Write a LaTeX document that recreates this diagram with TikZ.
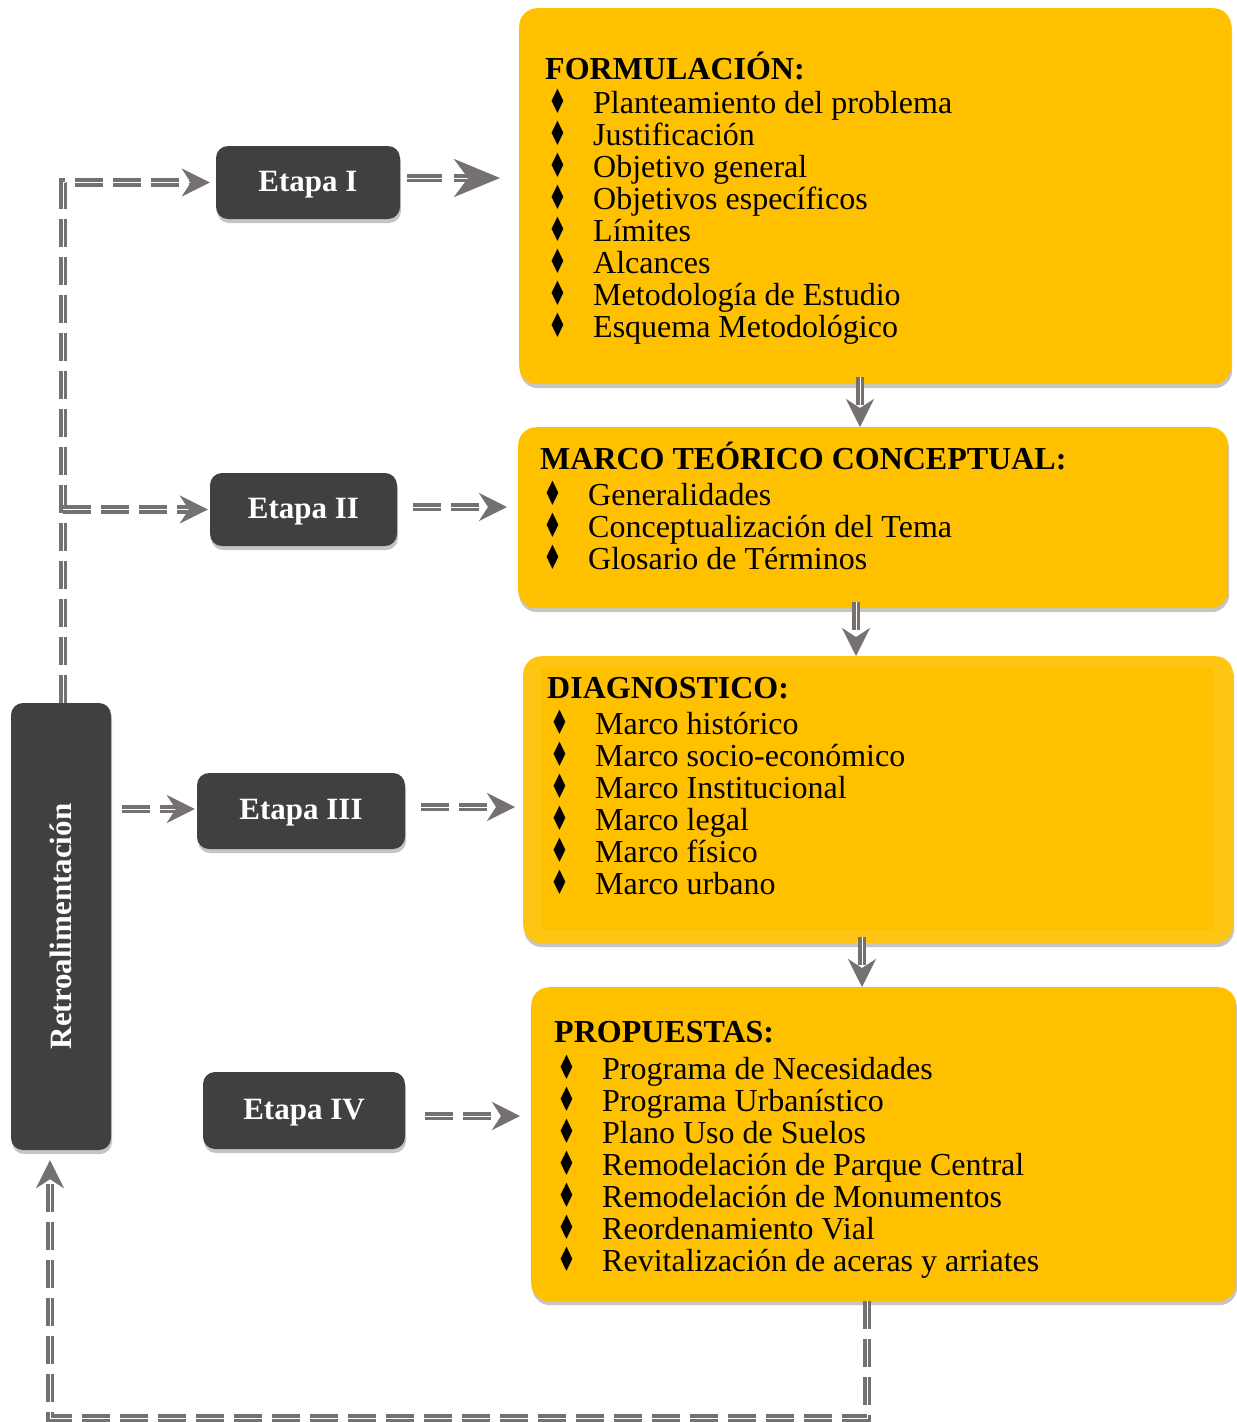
\documentclass[tikz,border=0pt]{standalone}
\usepackage{fontspec}
\setmainfont{Liberation Serif}
\newfontfamily\djv{DejaVu Sans}
\usepackage{graphicx}
\usetikzlibrary{arrows.meta,shadows,calc}
\definecolor{orng}{HTML}{FFC000}
\definecolor{orngb}{HTML}{FFC514}
\definecolor{dark}{HTML}{404040}
\definecolor{arr}{HTML}{767171}
\newcommand{\bul}{\scalebox{0.66}[1.05]{\djv ♦}}
\newcommand{\itm}[1]{\hspace*{3pt}\makebox[45pt][l]{\bul}#1}
\begin{document}
\begin{tikzpicture}[x=1pt,y=-1pt,
  obox/.style={fill=orng, rounded corners=18pt, anchor=north west, inner sep=0pt,
    drop shadow={opacity=0.45,shadow xshift=1pt,shadow yshift=-4pt}},
  dbox/.style={fill=dark, rounded corners=12pt, inner sep=0pt, text=white,
    font=\bfseries\fontsize{31}{31}\selectfont, text depth=3pt,
    drop shadow={opacity=0.45,shadow xshift=1pt,shadow yshift=-4pt}},
  txt/.style={anchor=base west, align=left, inner sep=0pt, font=\fontsize{32}{32}\selectfont},
  link/.style={draw=arr, line width=3.6pt, double=white, double distance=1pt,
    dash pattern=on 28pt off 10pt,
    -{Stealth[length=28pt,width=28pt,inset=9pt,fill=arr]}},
  biglink/.style={link, dash pattern=on 35pt off 12pt,
    -{Stealth[length=46pt,width=38pt,inset=14pt,fill=arr]}}
]
\fill[white] (0,0) rectangle (1237,1422);
\useasboundingbox (0,0) rectangle (1237,1422);

% orange boxes
\node[obox, minimum width=712pt, minimum height=376pt] (f) at (519,8) {};
\node[obox, minimum width=710pt, minimum height=181pt] (m) at (518,427) {};
\node[obox, fill=orngb, minimum width=710pt, minimum height=287pt] (d) at (523,656) {};
\fill[orng] (541,668) rectangle (1213,930);
\node[obox, minimum width=705pt, minimum height=314pt] (p) at (531,987) {};

% texts (anchored at the baseline of the last line)
\node[txt] (ft) at (545,337) {\textbf{FORMULACIÓN:}\\[2pt]
\itm{Planteamiento del problema}\\
\itm{Justificación}\\
\itm{Objetivo general}\\
\itm{Objetivos específicos}\\
\itm{Límites}\\
\itm{Alcances}\\
\itm{Metodología de Estudio}\\
\itm{Esquema Metodológico}};

\node[txt] (mt) at (540,569) {\textbf{MARCO TEÓRICO CONCEPTUAL:}\\[4pt]
\itm{Generalidades}\\
\itm{Conceptualización del Tema}\\
\itm{Glosario de Términos}};

\node[txt] (dt) at (547,894) {\textbf{DIAGNOSTICO:}\\[4pt]
\itm{Marco histórico}\\
\itm{Marco socio-económico}\\
\itm{Marco Institucional}\\
\itm{Marco legal}\\
\itm{Marco físico}\\
\itm{Marco urbano}};

\node[txt] (pt) at (554,1271) {\textbf{PROPUESTAS:}\\[5pt]
\itm{Programa de Necesidades}\\
\itm{Programa Urbanístico}\\
\itm{Plano Uso de Suelos}\\
\itm{Remodelación de Parque Central}\\
\itm{Remodelación de Monumentos}\\
\itm{Reordenamiento Vial}\\
\itm{Revitalización de aceras y arriates}};

% dark boxes
\node[dbox, minimum width=184pt, minimum height=73pt] (e1) at (308,182.5) {Etapa I};
\node[dbox, minimum width=187pt, minimum height=73pt] (e2) at (303.5,509.5) {Etapa II};
\node[dbox, minimum width=208pt, minimum height=76pt] (e3) at (301,811) {Etapa III};
\node[dbox, minimum width=202pt, minimum height=77pt] (e4) at (304,1110.5) {Etapa IV};
\node[dbox, minimum width=100pt, minimum height=447pt] (r) at (61,926.5) {};
\node[rotate=90, text=white, font=\bfseries\fontsize{31}{31}\selectfont] (rt) at (r.center) {Retroalimentación};

% coordinates
\coordinate (lx) at (63,0);
\coordinate (fx) at (860,0);
\coordinate (mx) at (856,0);
\coordinate (dx) at (862,0);
\coordinate (bx) at (867,0);
\coordinate (bl) at (50,1418);

% connectors
\draw[biglink, shorten <=7pt, shorten >=19pt] (e1.east |- 0,178) -- (f.west |- 0,178);
\draw[link, shorten <=16pt, shorten >=11pt] (e2.east |- 0,507) -- (m.west |- 0,507);
\draw[link, shorten <=16pt, shorten >=8pt] (e3.east |- 0,807) -- (d.west |- 0,807);
\draw[link, shorten <=20pt, shorten >=11pt] (e4.east |- 0,1116) -- (p.west |- 0,1116);
\draw[link, shorten <=11pt, shorten >=2pt] (r.east |- 0,809) -- (e3.west |- 0,809);
\draw[link, shorten <=-7pt] (fx |- f.south) -- (fx |- m.north);
\draw[link, shorten <=-6pt] (mx |- m.south) -- (mx |- d.north);
\draw[link, shorten <=-6pt] (dx |- d.south) -- (dx |- p.north);
\draw[link, shorten >=6pt] (lx |- r.north) |- (e1.west);
\draw[link, shorten >=2pt] (lx |- e2.west) -- (e2.west);
\draw[link, shorten >=10pt] (bx |- p.south) |- (bl) -- (bl |- r.south);
\end{tikzpicture}
\end{document}
